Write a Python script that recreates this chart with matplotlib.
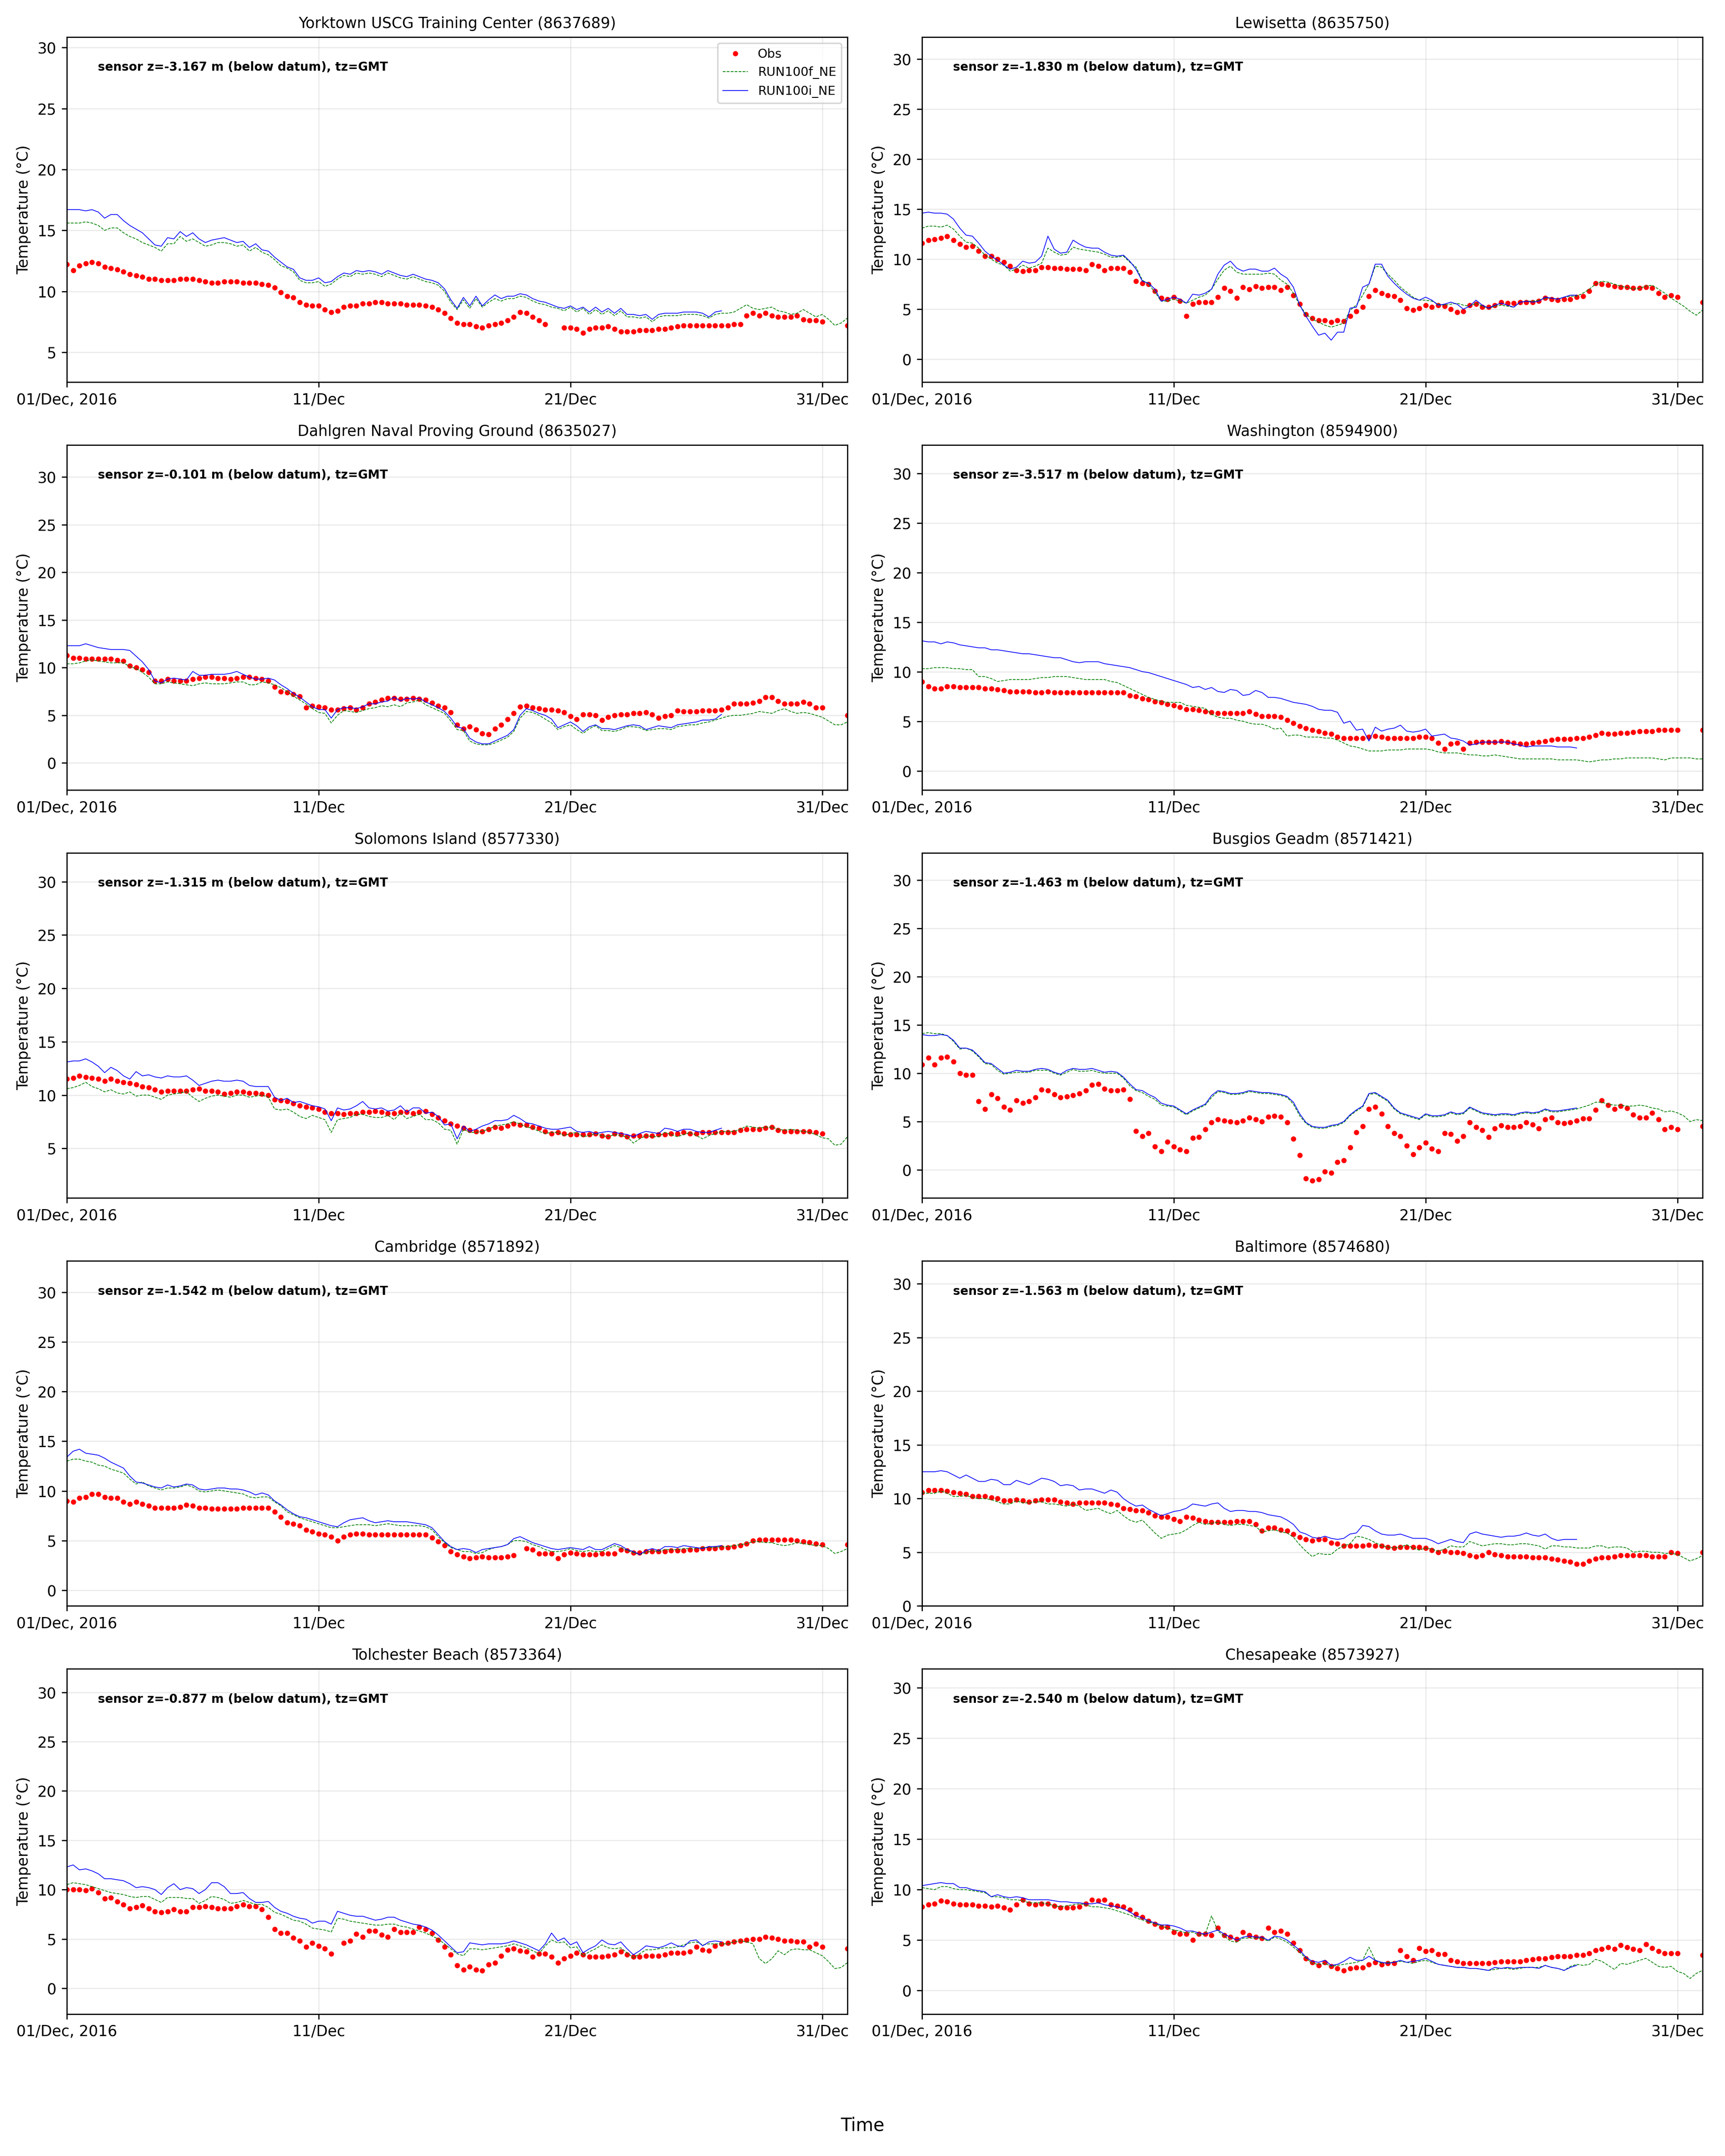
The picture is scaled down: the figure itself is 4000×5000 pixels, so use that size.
import datetime
import numpy as np
import matplotlib
matplotlib.use("Agg")
import matplotlib.pyplot as plt
import matplotlib.dates as mdates

# values every 6 hours from 01/Dec 2016 00:00 (None = no data)
# obs = observations, f = RUN100f_NE, i = RUN100i_NE

yorktown_i = [
    16.7, 16.7, 16.7, 16.6, 16.7, 16.5, 16.0, 16.3,
    16.3, 15.8, 15.4, 15.1, 14.8, 14.3, 13.8, 13.7,
    14.4, 14.3, 14.9, 14.5, 14.8, 14.3, 14.0, 14.2,
    14.3, 14.4, 14.2, 14.0, 14.1, 13.6, 13.9, 13.4,
    13.3, 12.8, 12.4, 12.0, 11.8, 11.1, 10.9, 10.9,
    11.1, 10.7, 10.8, 11.2, 11.5, 11.4, 11.7, 11.6,
    11.7, 11.6, 11.4, 11.7, 11.5, 11.3, 11.2, 11.4,
    11.2, 11.0, 10.9, 10.7, 10.2, 9.3, 8.6, 9.5,
    8.8, 9.6, 8.8, 9.3, 9.7, 9.4, 9.6, 9.6,
    9.8, 9.7, 9.4, 9.2, 9.1, 8.9, 8.7, 8.6,
    8.8, 8.5, 8.7, 8.3, 8.7, 8.3, 8.6, 8.2,
    8.6, 8.1, 8.1, 8.0, 8.1, 7.7, 8.1, 8.2,
    8.2, 8.2, 8.3, 8.3, 8.3, 8.2, 7.9, 8.3,
    8.4]
yorktown_f = [
    15.6, 15.6, 15.6, 15.7, 15.6, 15.4, 15.0, 15.2,
    15.2, 14.8, 14.5, 14.3, 14.0, 13.8, 13.6, 13.3,
    13.9, 13.9, 14.5, 14.1, 14.3, 14.0, 13.7, 13.8,
    14.0, 14.0, 13.9, 13.7, 13.8, 13.3, 13.6, 13.2,
    13.0, 12.6, 12.1, 11.9, 11.6, 10.9, 10.7, 10.7,
    10.8, 10.4, 10.6, 11.0, 11.3, 11.2, 11.5, 11.4,
    11.5, 11.4, 11.2, 11.5, 11.3, 11.1, 11.0, 11.2,
    11.0, 10.8, 10.7, 10.5, 10.0, 9.1, 8.5, 9.3,
    8.6, 9.4, 8.7, 9.1, 9.4, 9.2, 9.4, 9.4,
    9.6, 9.5, 9.2, 9.0, 8.9, 8.7, 8.6, 8.4,
    8.7, 8.3, 8.6, 8.1, 8.5, 8.1, 8.4, 8.0,
    8.4, 7.9, 7.9, 7.8, 7.9, 7.5, 7.9, 8.0,
    8.0, 8.0, 8.1, 8.1, 8.1, 8.0, 7.8, 8.1,
    8.2, 8.2, 8.3, 8.6, 8.9, 8.6, 8.5, 8.6,
    8.7, 8.4, 8.3, 8.1, 8.2, 8.5, 8.2, 7.9,
    8.1, 7.7, 7.2, 7.4, 7.8]
yorktown_obs = [
    12.2, 11.7, 12.1, 12.3, 12.4, 12.3, 12.0, 11.9,
    11.8, 11.6, 11.4, 11.3, 11.2, 11.0, 11.0, 10.9,
    10.9, 10.9, 11.0, 11.0, 11.0, 10.9, 10.8, 10.7,
    10.7, 10.8, 10.8, 10.8, 10.7, 10.7, 10.7, 10.6,
    10.5, 10.3, 9.9, 9.6, 9.5, 9.1, 8.9, 8.8,
    8.8, 8.5, 8.3, 8.4, 8.7, 8.8, 8.8, 9.0,
    9.0, 9.1, 9.1, 9.0, 9.0, 9.0, 8.9, 8.9,
    8.9, 8.8, 8.7, 8.5, 8.2, 7.8, 7.4, 7.3,
    7.3, 7.1, 7.0, 7.2, 7.3, 7.4, 7.6, 7.9,
    8.3, 8.2, 7.9, 7.6, 7.3, None, None, 7.0,
    7.0, 6.9, 6.6, 6.9, 7.0, 7.0, 7.1, 6.9,
    6.7, 6.7, 6.7, 6.8, 6.8, 6.8, 6.9, 6.9,
    7.0, 7.1, 7.2, 7.2, 7.2, 7.2, 7.2, 7.2,
    7.2, 7.2, 7.3, 7.3, 8.0, 8.2, 8.0, 8.2,
    8.0, 7.9, 7.9, 7.9, 8.0, 7.7, 7.6, 7.6,
    7.5, None, None, None, 7.2]

lewisetta_i = [
    14.6, 14.7, 14.6, 14.6, 14.5, 14.0, 13.1, 12.4,
    12.3, 11.6, 10.8, 10.3, 9.9, 9.4, 9.0, 9.2,
    9.8, 9.6, 9.7, 10.3, 12.3, 11.0, 10.6, 10.7,
    11.9, 11.5, 11.2, 11.1, 11.1, 10.7, 10.4, 10.3,
    10.4, 9.8, 9.0, 7.8, 7.6, 7.0, 5.8, 6.0,
    6.2, 6.0, 5.6, 6.5, 6.4, 6.6, 7.0, 8.5,
    9.4, 9.8, 9.1, 8.8, 9.0, 9.0, 8.8, 8.8,
    9.1, 8.5, 8.1, 7.2, 5.4, 4.3, 3.3, 2.4,
    2.6, 1.9, 2.7, 2.7, 5.1, 5.2, 7.2, 7.5,
    9.5, 9.5, 8.3, 7.6, 7.0, 6.5, 6.1, 5.9,
    6.2, 5.9, 5.4, 5.5, 5.7, 5.5, 5.0, 5.3,
    5.9, 5.4, 5.1, 5.4, 5.6, 5.4, 5.2, 5.7,
    5.8, 5.7, 5.8, 6.2, 6.1, 6.0, 6.2, 6.4,
    6.4]
lewisetta_f = [
    13.1, 13.3, 13.3, 13.2, 13.4, 13.0, 12.3, 11.7,
    11.6, 11.1, 10.4, 10.0, 9.6, 9.4, 8.8, 9.0,
    9.4, 9.1, 9.3, 9.6, 11.1, 10.7, 10.4, 10.5,
    11.2, 11.0, 10.9, 10.8, 10.7, 10.5, 10.2, 10.2,
    10.3, 9.7, 9.2, 7.9, 7.5, 6.7, 5.8, 5.8,
    6.0, 5.8, 5.6, 5.9, 6.2, 6.4, 7.0, 8.0,
    8.9, 9.3, 8.7, 8.5, 8.5, 8.5, 8.5, 8.6,
    8.5, 7.9, 7.5, 6.6, 5.4, 4.5, 4.0, 3.7,
    3.4, 3.2, 3.4, 3.6, 4.9, 5.4, 6.4, 7.5,
    9.3, 9.2, 8.5, 7.9, 7.2, 6.7, 6.2, 5.9,
    5.9, 5.8, 5.5, 5.4, 5.5, 5.6, 5.4, 5.3,
    5.6, 5.3, 5.1, 5.3, 5.4, 5.3, 5.2, 5.7,
    5.8, 5.8, 5.9, 6.1, 6.1, 6.0, 6.2, 6.3,
    6.3, 6.6, 7.0, 7.5, 7.8, 7.7, 7.5, 7.3,
    7.2, 7.0, 7.1, 7.3, 7.4, 7.0, 6.6, 6.1,
    5.7, 5.3, 4.8, 4.4, 4.9]
lewisetta_obs = [
    11.6, 11.9, 12.0, 12.1, 12.3, 11.9, 11.5, 11.2,
    11.3, 10.8, 10.3, 10.3, 10.0, 9.7, 9.3, 8.9,
    8.8, 8.9, 8.9, 9.2, 9.2, 9.1, 9.1, 9.0,
    9.0, 9.0, 8.9, 9.5, 9.3, 8.9, 9.1, 9.1,
    9.1, 8.7, 7.8, 7.6, 7.5, 6.8, 6.1, 6.0,
    6.2, 5.8, 4.3, 5.5, 5.7, 5.7, 5.7, 6.2,
    7.1, 6.8, 6.1, 7.2, 7.0, 7.3, 7.1, 7.2,
    7.2, 6.9, 7.2, 6.4, 5.5, 4.5, 4.1, 3.9,
    3.9, 3.7, 3.9, 3.8, 4.3, 4.8, 5.2, 6.3,
    6.9, 6.6, 6.4, 6.3, 5.9, 5.1, 4.9, 5.1,
    5.4, 5.2, 5.4, 5.3, 5.0, 4.7, 4.8, 5.4,
    5.5, 5.2, 5.2, 5.4, 5.7, 5.6, 5.6, 5.7,
    5.7, 5.7, 5.8, 6.1, 6.0, 5.9, 6.0, 6.0,
    6.2, 6.3, 6.8, 7.6, 7.5, 7.4, 7.3, 7.2,
    7.2, 7.1, 7.1, 7.2, 7.1, 6.6, 6.2, 6.4,
    6.2, None, None, None, 5.7]

dahlgren_i = [
    12.3, 12.3, 12.3, 12.5, 12.3, 12.1, 12.0, 11.9,
    11.9, 11.9, 11.8, 11.2, 10.6, 9.8, 8.6, 8.4,
    8.8, 8.9, 8.8, 8.7, 9.6, 9.2, 9.2, 9.3,
    9.3, 9.3, 9.4, 9.6, 9.3, 9.0, 8.8, 8.8,
    8.9, 8.7, 8.2, 7.8, 7.3, 6.9, 6.4, 5.9,
    5.6, 5.6, 4.7, 5.6, 5.8, 5.8, 5.7, 5.9,
    6.2, 6.2, 6.4, 6.5, 6.9, 6.5, 6.8, 6.7,
    6.8, 6.4, 6.1, 5.8, 5.4, 4.7, 3.8, 3.6,
    2.6, 2.2, 2.0, 2.0, 2.3, 2.6, 2.9, 3.5,
    5.0, 5.7, 5.5, 5.2, 5.0, 4.6, 3.7, 4.0,
    4.3, 3.9, 3.3, 3.8, 4.0, 3.6, 3.6, 3.5,
    3.7, 3.9, 4.0, 3.9, 3.5, 3.7, 3.9, 3.8,
    3.7, 4.0, 4.1, 4.2, 4.3, 4.5, 4.5, 4.6,
    5.1]
dahlgren_f = [
    10.4, 10.4, 10.5, 10.7, 10.8, 10.7, 10.6, 10.5,
    10.5, 10.5, 10.1, 9.9, 9.5, 9.0, 8.3, 8.3,
    8.5, 8.4, 8.3, 8.2, 8.1, 8.3, 8.4, 8.3,
    8.3, 8.3, 8.4, 8.5, 8.5, 8.2, 8.2, 8.5,
    8.4, 8.2, 7.9, 7.5, 7.0, 6.6, 6.2, 5.7,
    5.3, 5.2, 4.2, 5.0, 5.5, 5.4, 5.3, 5.5,
    5.7, 5.8, 6.0, 5.9, 6.1, 5.9, 6.3, 6.4,
    6.6, 6.1, 5.8, 5.5, 5.2, 4.4, 3.5, 3.4,
    2.3, 2.0, 1.9, 1.9, 2.1, 2.4, 2.7, 3.3,
    4.7, 5.4, 5.3, 5.0, 4.6, 4.2, 3.5, 3.8,
    4.0, 3.5, 3.1, 3.6, 3.9, 3.4, 3.4, 3.3,
    3.5, 3.8, 3.8, 3.7, 3.4, 3.5, 3.6, 3.6,
    3.5, 3.8, 3.9, 4.0, 4.0, 4.2, 4.3, 4.5,
    4.7, 4.9, 5.0, 5.0, 5.1, 5.2, 5.4, 5.3,
    5.2, 5.5, 5.7, 5.4, 5.2, 5.3, 5.2, 5.0,
    4.8, 4.4, 4.0, 4.0, 4.3]
dahlgren_obs = [
    11.3, 11.0, 11.0, 10.9, 10.9, 10.9, 10.9, 10.9,
    10.8, 10.7, 10.2, 10.0, 9.8, 9.5, 8.6, 8.6,
    8.8, 8.6, 8.6, 8.6, 8.8, 8.9, 9.0, 9.0,
    8.9, 8.9, 8.8, 8.9, 9.0, 9.0, 8.9, 8.8,
    8.6, 8.0, 7.5, 7.4, 7.2, 7.0, 5.8, 6.0,
    5.9, 5.8, 5.6, 5.6, 5.7, 5.8, 5.6, 5.8,
    6.2, 6.4, 6.6, 6.8, 6.8, 6.7, 6.7, 6.8,
    6.7, 6.6, 6.3, 6.0, 5.8, 5.3, 4.0, 3.6,
    3.8, 3.5, 3.1, 3.0, 3.6, 4.0, 4.6, 5.2,
    5.9, 6.0, 5.8, 5.7, 5.6, 5.6, 5.5, 5.3,
    4.9, 4.6, 5.1, 5.1, 5.0, 4.5, 4.8, 5.0,
    5.1, 5.1, 5.2, 5.2, 5.3, 5.1, 4.7, 4.9,
    5.0, 5.5, 5.4, 5.4, 5.4, 5.5, 5.5, 5.5,
    5.6, 5.8, 6.2, 6.2, 6.2, 6.3, 6.5, 6.9,
    6.9, 6.5, 6.2, 6.2, 6.2, 6.4, 6.2, 5.8,
    5.8, None, None, None, 5.0]

washington_i = [
    13.1, 13.0, 13.0, 12.8, 13.0, 12.9, 12.7, 12.6,
    12.5, 12.4, 12.4, 12.2, 12.2, 12.1, 12.0, 11.9,
    11.8, 11.8, 11.7, 11.6, 11.5, 11.4, 11.4, 11.2,
    11.0, 10.9, 11.0, 11.0, 11.0, 10.8, 10.7, 10.6,
    10.5, 10.4, 10.2, 10.0, 9.9, 9.7, 9.5, 9.3,
    9.1, 8.9, 8.7, 8.4, 8.5, 8.2, 8.4, 8.0,
    7.9, 8.2, 8.1, 7.6, 7.7, 8.1, 7.9, 7.4,
    7.4, 7.3, 7.1, 6.9, 6.8, 6.7, 6.5, 6.2,
    6.1, 6.1, 5.9, 4.8, 5.0, 4.1, 4.2, 3.0,
    4.4, 4.0, 4.2, 4.3, 4.6, 4.0, 3.9, 4.0,
    4.2, 3.5, 3.6, 3.7, 3.3, 3.2, 3.0, 2.6,
    2.7, 2.9, 2.9, 2.9, 2.9, 2.9, 2.7, 2.6,
    2.4, 2.5, 2.5, 2.5, 2.5, 2.4, 2.4, 2.4,
    2.3]
washington_f = [
    10.3, 10.3, 10.4, 10.4, 10.4, 10.3, 10.3, 10.2,
    10.2, 9.5, 9.5, 9.3, 9.0, 9.1, 9.2, 9.2,
    9.2, 9.2, 9.3, 9.4, 9.4, 9.5, 9.5, 9.5,
    9.4, 9.3, 9.2, 9.2, 9.2, 9.2, 9.0, 8.9,
    8.6, 8.3, 8.0, 7.7, 7.4, 7.2, 7.0, 6.9,
    6.9, 6.9, 6.6, 6.5, 6.4, 6.3, 5.7, 5.4,
    5.3, 5.3, 5.1, 5.0, 4.8, 4.7, 4.7, 4.5,
    4.2, 4.3, 3.5, 3.6, 3.6, 3.4, 3.4, 3.4,
    3.3, 3.3, 3.1, 2.8, 2.5, 2.4, 2.2, 2.0,
    2.0, 2.0, 2.1, 2.1, 2.1, 2.2, 2.2, 2.2,
    2.2, 2.1, 1.9, 1.8, 1.8, 1.8, 1.7, 1.6,
    1.6, 1.5, 1.5, 1.6, 1.5, 1.4, 1.3, 1.2,
    1.2, 1.2, 1.2, 1.2, 1.2, 1.1, 1.1, 1.1,
    1.1, 1.0, 0.9, 1.0, 1.1, 1.1, 1.2, 1.2,
    1.3, 1.3, 1.3, 1.3, 1.3, 1.2, 1.1, 1.3,
    1.3, 1.3, 1.3, 1.2, 1.2]
washington_obs = [
    9.0, 8.5, 8.3, 8.3, 8.5, 8.5, 8.4, 8.4,
    8.4, 8.4, 8.3, 8.3, 8.2, 8.1, 8.0, 8.0,
    8.0, 8.0, 7.9, 7.9, 8.0, 7.9, 7.9, 7.9,
    7.9, 7.9, 7.9, 7.9, 7.9, 7.9, 7.9, 7.9,
    7.9, 7.6, 7.5, 7.3, 7.2, 7.0, 6.9, 6.7,
    6.6, 6.4, 6.2, 6.2, 6.1, 6.0, 5.9, 5.8,
    5.8, 5.8, 5.8, 5.8, 6.0, 5.7, 5.5, 5.5,
    5.5, 5.4, 5.1, 4.8, 4.5, 4.3, 4.1, 4.0,
    3.8, 3.7, 3.4, 3.3, 3.3, 3.3, 3.3, 3.4,
    3.5, 3.4, 3.3, 3.3, 3.3, 3.3, 3.3, 3.4,
    3.4, 3.3, 2.8, 2.2, 2.7, 2.8, 2.2, 2.8,
    2.9, 2.9, 2.9, 2.9, 3.0, 2.9, 2.8, 2.7,
    2.7, 2.8, 2.9, 3.0, 3.1, 3.2, 3.2, 3.2,
    3.3, 3.3, 3.4, 3.6, 3.8, 3.7, 3.7, 3.8,
    3.8, 3.9, 4.0, 4.0, 4.0, 4.1, 4.1, 4.1,
    4.1, None, None, None, 4.1]

solomons_i = [
    13.1, 13.2, 13.2, 13.4, 13.1, 12.7, 12.1, 12.6,
    12.3, 11.8, 11.5, 12.2, 11.8, 11.9, 11.7, 11.6,
    11.8, 11.7, 11.7, 11.8, 11.4, 10.9, 11.1, 11.3,
    11.4, 11.3, 11.3, 11.4, 11.3, 10.9, 10.8, 10.8,
    10.8, 9.8, 9.5, 9.7, 9.3, 9.4, 9.2, 9.0,
    8.9, 8.7, 7.6, 8.8, 8.6, 8.7, 9.0, 9.4,
    8.8, 8.7, 8.8, 8.5, 8.6, 9.0, 8.4, 8.8,
    8.8, 8.3, 8.4, 8.0, 7.2, 7.3, 5.9, 7.1,
    6.6, 6.8, 7.1, 7.3, 7.6, 7.6, 7.7, 8.1,
    7.8, 7.4, 7.3, 7.1, 6.9, 6.8, 6.8, 6.9,
    7.0, 6.6, 6.5, 6.6, 6.4, 6.5, 6.6, 6.5,
    6.4, 6.3, 6.1, 6.4, 6.6, 6.5, 6.4, 6.9,
    6.8, 6.6, 6.8, 6.8, 6.6, 6.5, 6.5, 6.7,
    6.9]
solomons_f = [
    10.6, 10.7, 10.9, 11.2, 10.8, 10.6, 10.3, 10.5,
    10.2, 10.1, 10.3, 9.9, 10.0, 10.0, 9.8, 9.6,
    10.0, 10.1, 10.2, 10.3, 9.8, 9.4, 9.7, 9.9,
    10.0, 9.9, 9.8, 10.0, 10.0, 9.8, 9.9, 10.0,
    9.8, 8.7, 8.6, 8.7, 8.4, 8.0, 7.8, 8.1,
    7.9, 7.7, 6.5, 7.7, 7.8, 7.9, 8.2, 8.2,
    8.0, 7.9, 7.9, 8.1, 7.7, 8.3, 7.8, 8.0,
    8.2, 7.7, 7.7, 7.4, 6.8, 6.7, 5.4, 6.8,
    6.5, 6.5, 6.6, 6.8, 7.1, 7.2, 7.3, 7.5,
    7.3, 7.0, 6.9, 6.6, 6.4, 6.5, 6.5, 6.2,
    6.4, 6.5, 6.1, 6.2, 6.4, 6.2, 6.1, 6.3,
    6.2, 6.1, 5.5, 5.9, 6.2, 6.1, 6.1, 6.5,
    6.3, 6.1, 6.3, 6.5, 6.2, 5.9, 6.2, 6.4,
    6.6, 6.6, 6.6, 6.8, 7.1, 7.0, 6.9, 7.0,
    7.0, 6.8, 6.7, 6.8, 6.7, 6.6, 6.5, 6.3,
    6.0, 5.9, 5.3, 5.4, 6.1]
solomons_obs = [
    11.5, 11.6, 11.8, 11.7, 11.6, 11.5, 11.3, 11.5,
    11.3, 11.2, 11.1, 11.0, 10.8, 10.7, 10.5, 10.3,
    10.4, 10.4, 10.4, 10.4, 10.5, 10.6, 10.4, 10.4,
    10.3, 10.1, 10.2, 10.3, 10.3, 10.2, 10.2, 10.1,
    10.0, 9.6, 9.5, 9.4, 9.2, 9.0, 8.9, 8.8,
    8.7, 8.4, 8.3, 8.3, 8.2, 8.3, 8.3, 8.4,
    8.4, 8.5, 8.4, 8.3, 8.3, 8.4, 8.4, 8.3,
    8.4, 8.5, 8.2, 7.9, 7.6, 7.3, 7.1, 6.9,
    6.7, 6.6, 6.6, 6.8, 7.0, 6.9, 7.1, 7.3,
    7.2, 7.2, 7.0, 6.9, 6.6, 6.4, 6.5, 6.4,
    6.3, 6.3, 6.3, 6.3, 6.4, 6.2, 6.1, 6.4,
    6.3, 6.1, 6.2, 6.2, 6.2, 6.2, 6.3, 6.3,
    6.4, 6.4, 6.5, 6.4, 6.4, 6.5, 6.5, 6.5,
    6.5, 6.5, 6.5, 6.7, 6.8, 6.8, 6.8, 6.9,
    7.0, 6.7, 6.6, 6.6, 6.6, 6.6, 6.6, 6.5,
    6.4]

busgios_i = [
    14.0, 13.9, 13.9, 14.0, 13.9, 13.4, 12.6, 12.6,
    12.4, 11.8, 11.1, 11.0, 10.5, 10.0, 10.1, 10.3,
    10.2, 10.2, 10.4, 10.5, 10.4, 10.1, 9.9, 10.3,
    10.5, 10.4, 10.4, 10.5, 10.3, 10.1, 10.2, 10.1,
    9.6, 8.9, 8.3, 8.2, 7.8, 7.5, 6.9, 6.7,
    6.6, 6.2, 5.8, 6.2, 6.5, 6.8, 7.7, 8.2,
    8.1, 7.9, 7.9, 8.0, 8.2, 8.1, 8.0, 8.0,
    7.9, 7.8, 7.6, 7.0, 5.8, 4.9, 4.5, 4.4,
    4.4, 4.6, 4.7, 5.0, 5.7, 6.2, 6.6, 7.9,
    8.0, 7.6, 7.2, 6.4, 5.9, 5.7, 5.5, 5.3,
    5.8, 5.6, 5.6, 5.7, 6.0, 5.8, 5.9, 6.5,
    6.2, 5.9, 5.8, 5.7, 5.8, 5.8, 5.7, 5.9,
    6.0, 5.9, 6.0, 6.3, 6.1, 6.1, 6.2, 6.3,
    6.4]
busgios_f = [
    14.1, 14.2, 14.1, 14.1, 13.9, 13.3, 12.5, 12.6,
    12.3, 11.7, 11.0, 10.9, 10.3, 9.9, 10.0, 10.1,
    10.1, 10.1, 10.3, 10.3, 10.3, 10.0, 9.8, 10.1,
    10.4, 10.2, 10.2, 10.3, 10.1, 10.0, 10.0, 10.0,
    9.5, 8.7, 8.2, 8.0, 7.6, 7.3, 6.7, 6.6,
    6.5, 6.1, 5.7, 6.1, 6.4, 6.7, 7.5, 8.1,
    8.0, 7.8, 7.8, 7.9, 8.1, 8.0, 7.9, 7.9,
    7.8, 7.7, 7.5, 6.8, 5.6, 4.8, 4.4, 4.3,
    4.3, 4.5, 4.6, 4.9, 5.6, 6.1, 6.5, 7.8,
    7.9, 7.5, 7.1, 6.3, 5.8, 5.6, 5.4, 5.2,
    5.7, 5.5, 5.5, 5.6, 5.9, 5.7, 5.8, 6.4,
    6.1, 5.8, 5.7, 5.6, 5.7, 5.7, 5.6, 5.8,
    5.9, 5.8, 5.9, 6.2, 6.0, 6.0, 6.1, 6.2,
    6.3, 6.5, 6.7, 7.0, 7.0, 6.8, 6.7, 6.7,
    6.6, 6.6, 6.7, 6.6, 6.4, 6.3, 6.0, 6.1,
    5.9, 5.6, 5.0, 5.2, 5.1]
busgios_obs = [
    10.9, 11.6, 10.9, 11.6, 11.7, 11.2, 10.0, 9.8,
    9.8, 7.1, 6.3, 7.8, 7.4, 6.5, 6.2, 7.2,
    6.9, 7.1, 7.5, 8.3, 8.2, 7.8, 7.5, 7.6,
    7.7, 7.9, 8.2, 8.8, 8.9, 8.4, 8.2, 8.2,
    8.3, 7.3, 4.0, 3.5, 3.8, 2.4, 1.9, 2.9,
    2.4, 2.1, 1.9, 3.3, 3.4, 4.2, 4.9, 5.2,
    5.1, 5.0, 4.9, 5.1, 5.4, 5.2, 5.0, 5.5,
    5.6, 5.5, 4.9, 3.2, 1.5, -0.9, -1.1, -1.0,
    -0.2, -0.3, 0.8, 1.0, 2.3, 3.9, 4.5, 6.3,
    6.5, 5.8, 4.5, 3.8, 3.5, 2.5, 1.6, 2.3,
    2.8, 2.2, 1.9, 3.8, 3.7, 3.0, 3.5, 4.9,
    4.4, 4.1, 3.4, 4.3, 4.6, 4.4, 4.4, 4.5,
    4.9, 4.7, 4.3, 5.2, 5.4, 4.9, 4.8, 4.9,
    5.1, 5.3, 5.3, 6.2, 7.2, 6.7, 6.3, 6.6,
    6.4, 5.7, 5.4, 5.4, 5.9, 5.2, 4.2, 4.4,
    4.2, None, None, None, 4.5]

cambridge_i = [
    13.4, 14.0, 14.2, 13.8, 13.7, 13.6, 13.3, 12.9,
    12.6, 12.3, 11.5, 10.9, 10.8, 10.6, 10.4, 10.3,
    10.6, 10.4, 10.5, 10.7, 10.6, 10.2, 10.1, 10.2,
    10.3, 10.3, 10.2, 10.2, 10.1, 9.9, 9.6, 9.8,
    9.6, 9.0, 8.6, 8.1, 7.7, 7.4, 7.3, 7.1,
    6.9, 6.7, 6.5, 6.4, 6.8, 7.1, 7.2, 7.3,
    7.0, 6.8, 6.9, 7.0, 6.9, 6.9, 6.9, 6.8,
    6.7, 6.6, 6.3, 5.6, 4.9, 4.4, 4.1, 4.2,
    4.1, 3.8, 4.1, 4.2, 4.3, 4.4, 4.6, 5.2,
    5.4, 5.1, 4.8, 4.6, 4.4, 4.2, 4.1, 4.2,
    4.3, 4.2, 4.1, 4.4, 4.1, 4.1, 4.4, 4.7,
    4.5, 4.1, 3.9, 3.6, 4.0, 4.2, 4.0, 4.4,
    4.4, 4.3, 4.5, 4.4, 4.3, 4.2, 4.4, 4.4,
    4.5]
cambridge_f = [
    13.0, 13.2, 13.2, 13.0, 12.9, 12.6, 12.5, 12.2,
    12.0, 11.8, 11.2, 10.7, 10.9, 10.5, 10.3, 10.1,
    10.3, 10.3, 10.4, 10.6, 10.4, 10.0, 9.9, 10.0,
    10.1, 10.0, 9.9, 9.8, 9.7, 9.4, 9.3, 9.4,
    9.4, 8.9, 8.5, 7.9, 7.6, 7.3, 7.1, 6.9,
    6.7, 6.5, 6.3, 6.3, 6.4, 6.5, 6.6, 6.6,
    6.6, 6.5, 6.6, 6.7, 6.6, 6.5, 6.5, 6.5,
    6.5, 6.4, 6.1, 5.4, 4.8, 4.3, 4.1, 3.9,
    3.9, 3.7, 3.8, 4.1, 4.3, 4.4, 4.6, 5.0,
    5.0, 4.9, 4.6, 4.4, 4.1, 3.9, 3.9, 4.0,
    4.2, 4.0, 3.9, 4.0, 3.9, 3.9, 4.2, 4.5,
    4.3, 4.0, 3.8, 3.6, 3.8, 4.0, 3.9, 4.1,
    4.1, 4.1, 4.2, 4.2, 4.2, 4.3, 4.3, 4.3,
    4.4, 4.4, 4.5, 4.6, 4.7, 4.9, 4.9, 4.8,
    4.8, 4.6, 4.5, 4.6, 4.8, 4.7, 4.6, 4.5,
    4.5, 4.2, 3.7, 3.9, 4.2]
cambridge_obs = [
    9.0, 8.9, 9.3, 9.4, 9.7, 9.7, 9.4, 9.3,
    9.3, 8.9, 8.7, 8.9, 8.7, 8.5, 8.3, 8.3,
    8.3, 8.3, 8.4, 8.6, 8.5, 8.3, 8.3, 8.2,
    8.2, 8.2, 8.2, 8.2, 8.3, 8.3, 8.3, 8.3,
    8.3, 7.9, 7.4, 6.8, 6.7, 6.5, 6.1, 5.9,
    5.7, 5.6, 5.4, 5.0, 5.4, 5.6, 5.7, 5.7,
    5.6, 5.6, 5.6, 5.6, 5.6, 5.6, 5.6, 5.6,
    5.6, 5.6, 5.3, 4.9, 4.5, 3.9, 3.6, 3.4,
    3.2, 3.3, 3.4, 3.3, 3.3, 3.3, 3.4, 3.5,
    None, 4.2, 4.1, 3.7, 3.7, 3.7, 3.2, 3.6,
    3.8, 3.7, 3.6, 3.6, 3.6, 3.7, 3.7, 3.7,
    4.1, 4.0, 3.8, 3.8, 3.9, 3.9, 3.9, 3.9,
    4.0, 4.0, 4.0, 4.1, 4.1, 4.2, 4.2, 4.2,
    4.3, 4.3, 4.4, 4.5, 4.7, 5.0, 5.1, 5.1,
    5.1, 5.1, 5.1, 5.1, 5.0, 4.9, 4.8, 4.7,
    4.6, None, None, None, 4.6]

baltimore_i = [
    12.5, 12.5, 12.5, 12.6, 12.5, 12.2, 11.9, 12.2,
    11.9, 11.6, 11.6, 11.8, 11.7, 11.3, 11.3, 11.7,
    11.5, 11.3, 11.6, 11.9, 11.8, 11.6, 11.2, 11.3,
    11.2, 10.8, 10.9, 10.9, 10.7, 10.5, 10.8, 10.6,
    10.0, 9.6, 9.3, 9.4, 9.0, 8.7, 8.4, 8.6,
    8.8, 8.9, 9.1, 9.5, 9.4, 9.3, 9.5, 9.6,
    9.1, 8.8, 8.9, 8.9, 8.8, 8.8, 8.7, 8.5,
    8.4, 8.3, 8.0, 7.6, 6.9, 6.7, 6.4, 6.3,
    6.5, 6.3, 6.2, 6.3, 6.7, 6.8, 7.5, 7.4,
    7.0, 6.7, 6.6, 6.6, 6.7, 6.5, 6.3, 6.3,
    6.3, 6.1, 5.8, 6.0, 6.2, 6.0, 5.9, 6.7,
    6.9, 6.7, 6.6, 6.5, 6.4, 6.5, 6.5, 6.6,
    6.8, 6.6, 6.5, 6.7, 6.3, 6.1, 6.2, 6.2,
    6.2]
baltimore_f = [
    10.5, 10.5, 10.5, 10.7, 10.5, 10.2, 10.2, 10.3,
    10.1, 10.0, 10.0, 9.9, 9.7, 9.5, 9.5, 9.8,
    9.6, 9.6, 9.7, 9.7, 9.5, 9.5, 9.4, 9.3,
    9.5, 9.3, 8.9, 9.0, 9.1, 8.8, 8.6, 8.9,
    8.4, 8.0, 7.8, 8.0, 7.4, 6.8, 6.3, 6.6,
    6.7, 6.8, 7.1, 7.5, 7.8, 7.6, 7.7, 7.8,
    7.6, 7.5, 7.6, 7.6, 7.5, 7.4, 6.9, 7.0,
    7.1, 6.9, 6.8, 6.4, 5.7, 5.1, 4.6, 4.9,
    4.8, 4.8, 5.3, 5.6, 5.8, 6.5, 6.4, 6.2,
    5.9, 5.6, 5.5, 5.4, 5.5, 5.7, 5.4, 5.2,
    5.4, 5.3, 5.1, 5.3, 5.6, 5.5, 5.5, 6.0,
    5.8, 5.6, 5.7, 5.8, 5.8, 5.7, 5.7, 5.8,
    5.8, 5.7, 5.6, 5.3, 5.6, 5.6, 5.5, 5.5,
    5.4, 5.4, 5.4, 5.6, 5.6, 5.4, 5.5, 5.5,
    5.4, 5.0, 5.1, 5.1, 5.0, 5.0, 4.9, 4.9,
    4.8, 4.5, 4.2, 4.4, 4.7]
baltimore_obs = [
    10.6, 10.8, 10.8, 10.8, 10.7, 10.6, 10.5, 10.4,
    10.2, 10.2, 10.2, 10.1, 10.0, 9.8, 9.8, 9.9,
    9.8, 9.7, 9.8, 9.9, 9.9, 9.9, 9.7, 9.6,
    9.5, 9.6, 9.6, 9.6, 9.6, 9.6, 9.5, 9.4,
    9.1, 9.0, 8.9, 8.9, 8.7, 8.4, 8.3, 8.3,
    8.1, 7.9, 8.3, 8.2, 8.0, 7.9, 7.8, 7.8,
    7.8, 7.8, 7.9, 7.9, 7.9, 7.6, 7.0, 7.3,
    7.3, 7.1, 7.0, 6.7, 6.4, 6.2, 6.1, 6.2,
    6.2, 5.9, 5.8, 5.6, 5.6, 5.6, 5.6, 5.7,
    5.6, 5.6, 5.5, 5.4, 5.5, 5.5, 5.5, 5.5,
    5.4, 5.2, 5.0, 5.1, 5.0, 5.0, 4.9, 4.7,
    4.6, 4.7, 5.0, 4.8, 4.7, 4.6, 4.6, 4.6,
    4.6, 4.5, 4.5, 4.5, 4.4, 4.3, 4.2, 4.1,
    3.9, 3.9, 4.2, 4.4, 4.5, 4.5, 4.6, 4.7,
    4.7, 4.7, 4.7, 4.7, 4.6, 4.6, 4.6, 5.0,
    4.9, None, None, None, 5.0]

tolchester_i = [
    12.3, 12.5, 12.0, 12.1, 11.9, 11.6, 11.1, 11.1,
    11.0, 10.9, 10.6, 10.2, 10.3, 10.2, 10.0, 9.5,
    10.2, 10.6, 10.0, 10.2, 10.1, 9.6, 10.0, 10.7,
    10.7, 10.3, 9.6, 9.6, 9.7, 9.1, 8.7, 8.7,
    8.8, 8.2, 7.8, 7.6, 7.3, 7.1, 7.0, 6.6,
    6.8, 6.8, 6.5, 7.8, 7.6, 7.4, 7.3, 7.3,
    7.1, 6.9, 7.0, 7.2, 7.2, 6.9, 6.7, 6.5,
    6.4, 6.2, 5.9, 5.4, 4.8, 4.2, 3.6, 3.7,
    4.6, 4.5, 4.4, 4.5, 4.5, 4.5, 4.6, 4.8,
    4.6, 4.4, 4.1, 3.8, 4.5, 5.6, 4.8, 5.1,
    4.4, 4.7, 3.6, 4.0, 4.3, 4.9, 4.5, 4.4,
    4.7, 4.0, 3.4, 3.8, 4.3, 4.2, 4.1, 4.3,
    4.6, 4.3, 4.2, 4.8, 4.9, 4.3, 4.7, 4.8,
    4.7]
tolchester_f = [
    10.5, 10.7, 10.6, 10.5, 10.3, 10.1, 9.9, 9.7,
    9.6, 9.5, 9.3, 9.2, 9.3, 9.3, 9.0, 8.7,
    9.2, 9.2, 9.2, 9.1, 9.1, 8.6, 8.9, 9.3,
    9.2, 9.0, 8.6, 8.7, 8.9, 8.7, 8.5, 8.5,
    8.2, 7.7, 7.5, 7.2, 6.9, 6.8, 6.5, 6.1,
    6.0, 5.9, 5.7, 7.1, 7.0, 6.8, 6.7, 6.6,
    6.5, 6.4, 6.4, 6.5, 6.5, 6.3, 6.2, 6.0,
    5.8, 5.6, 5.3, 5.0, 4.5, 4.0, 3.5, 3.3,
    4.0, 4.0, 3.9, 4.0, 4.1, 4.2, 4.3, 4.5,
    4.3, 4.1, 3.8, 3.5, 4.3, 4.9, 4.6, 4.7,
    4.1, 4.2, 3.3, 3.7, 4.0, 4.4, 4.1, 4.0,
    4.1, 3.6, 3.1, 3.5, 3.9, 3.9, 4.0, 4.1,
    4.1, 4.2, 4.4, 4.6, 4.7, 4.4, 4.5, 4.5,
    4.5, 4.5, 4.7, 4.8, 4.7, 4.5, 3.0, 2.5,
    3.0, 3.8, 3.4, 3.9, 4.0, 3.9, 3.9, 3.6,
    3.3, 2.7, 2.0, 2.1, 2.6]
tolchester_obs = [
    10.0, 10.0, 10.0, 9.9, 10.1, 9.7, 9.1, 9.2,
    8.8, 8.5, 8.1, 8.2, 8.4, 8.1, 7.8, 7.7,
    7.8, 8.0, 7.8, 7.8, 8.2, 8.2, 8.3, 8.2,
    8.1, 8.1, 8.1, 8.3, 8.5, 8.3, 8.3, 8.0,
    7.2, 6.0, 5.6, 5.6, 5.1, 4.8, 4.2, 4.6,
    4.3, 4.0, 3.5, None, 4.6, 4.8, 5.5, 5.2,
    5.8, 5.8, 5.4, 5.2, 6.0, 5.7, 5.7, 5.7,
    6.2, 6.0, 5.6, 4.9, 4.2, 3.4, 2.3, 1.9,
    2.2, 1.9, 1.8, 2.4, 2.6, 3.3, 3.9, 4.0,
    3.8, 3.7, 3.2, 3.5, 3.5, 3.2, 2.6, 3.0,
    3.3, 3.6, 3.4, 3.2, 3.2, 3.2, 3.3, 3.4,
    3.7, 3.4, 3.2, 3.2, 3.3, 3.3, 3.3, 3.4,
    3.6, 3.6, 3.6, 3.7, 4.2, 3.9, 3.8, 4.3,
    4.5, 4.6, 4.7, 4.8, 4.9, 5.0, 5.0, 5.2,
    5.1, 5.0, 4.8, 4.8, 4.7, 4.7, 4.2, 4.5,
    4.2, None, None, None, 4.0]

chesapeake_i = [
    10.4, 10.5, 10.6, 10.7, 10.6, 10.6, 10.2, 10.2,
    10.0, 9.9, 9.8, 9.3, 9.5, 9.3, 9.2, 9.3,
    9.2, 9.0, 9.0, 9.0, 9.0, 8.9, 8.8, 8.8,
    8.7, 8.7, 8.6, 8.6, 8.7, 8.5, 8.4, 8.3,
    8.1, 7.8, 7.4, 7.2, 6.9, 6.7, 6.5, 6.5,
    6.4, 6.2, 5.9, 5.9, 5.7, 5.6, 5.8, 6.0,
    5.6, 5.3, 5.0, 5.3, 5.4, 5.3, 5.3, 5.0,
    5.4, 5.3, 5.0, 4.5, 4.0, 3.3, 2.9, 2.8,
    3.0, 2.5, 2.6, 2.9, 3.3, 3.0, 3.0, 3.4,
    3.0, 2.8, 2.7, 2.8, 3.0, 2.8, 2.9, 3.0,
    3.2, 2.9, 2.6, 2.5, 2.4, 2.3, 2.3, 2.2,
    2.2, 2.1, 2.0, 2.3, 2.2, 2.3, 2.2, 2.3,
    2.3, 2.3, 2.2, 2.5, 2.3, 2.2, 2.0, 2.3,
    2.5]
chesapeake_f = [
    10.2, 10.1, 10.0, 10.3, 10.3, 10.1, 10.0, 10.0,
    9.9, 9.8, 9.7, 9.3, 9.3, 9.2, 9.0, 9.0,
    8.9, 8.7, 8.7, 8.7, 8.6, 8.4, 8.3, 8.4,
    8.5, 8.6, 8.5, 8.3, 8.3, 8.2, 8.1, 7.9,
    7.7, 7.5, 7.2, 7.0, 6.8, 6.6, 6.4, 6.2,
    6.0, 5.9, 5.7, 5.8, 5.5, 5.6, 7.4, 5.9,
    5.4, 4.9, 4.8, 5.2, 5.2, 5.2, 5.2, 4.9,
    5.3, 5.1, 4.8, 4.3, 3.8, 3.2, 2.7, 2.6,
    2.7, 2.4, 2.5, 2.6, 2.7, 2.8, 3.0, 4.3,
    3.0, 2.7, 2.8, 2.8, 2.9, 2.8, 2.7, 2.9,
    3.0, 2.8, 2.6, 2.5, 2.4, 2.3, 2.3, 2.2,
    2.2, 2.1, 2.0, 2.1, 2.2, 2.2, 2.1, 2.2,
    2.3, 2.3, 2.3, 2.5, 2.3, 2.2, 2.0, 2.4,
    2.6, 2.5, 2.6, 3.1, 2.9, 2.5, 2.1, 2.7,
    2.6, 2.8, 3.0, 3.2, 2.8, 2.4, 2.3, 2.4,
    1.9, 1.7, 1.2, 1.7, 2.0]
chesapeake_obs = [
    8.3, 8.5, 8.6, 8.9, 8.8, 8.6, 8.5, 8.5,
    8.5, 8.4, 8.4, 8.3, 8.4, 8.2, 8.0, 8.5,
    9.0, 8.6, 8.5, 8.6, 8.6, 8.4, 8.2, 8.2,
    8.2, 8.3, 8.6, 9.0, 8.9, 9.0, 8.5, 8.4,
    8.3, 8.0, 7.6, 7.3, 6.9, 6.6, 6.3, 6.3,
    5.8, 5.6, 5.6, 5.0, 5.6, 5.6, 5.5, 6.2,
    5.5, 5.3, 5.1, 5.8, 5.5, 5.3, 5.2, 6.2,
    5.8, 5.9, 5.6, 4.7, 4.0, 3.2, 2.8, 2.5,
    2.8, 2.4, 2.2, 2.0, 2.2, 2.3, 2.3, 2.6,
    2.8, 2.6, 2.7, 2.7, 4.0, 3.4, 3.0, 4.2,
    3.9, 4.0, 3.6, 3.6, 3.0, 2.9, 2.7, 2.7,
    2.7, 2.7, 2.7, 2.8, 2.9, 2.9, 2.9, 2.9,
    3.0, 3.1, 3.2, 3.2, 3.3, 3.4, 3.4, 3.4,
    3.5, 3.5, 3.7, 4.0, 4.1, 4.3, 4.1, 4.5,
    4.3, 4.1, 4.0, 4.6, 4.2, 3.9, 3.7, 3.7,
    3.7, None, None, None, 3.5]

titles = ["Yorktown USCG Training Center (8637689)", "Lewisetta (8635750)",
          "Dahlgren Naval Proving Ground (8635027)", "Washington (8594900)",
          "Solomons Island (8577330)", "Busgios Geadm (8571421)",
          "Cambridge (8571892)", "Baltimore (8574680)",
          "Tolchester Beach (8573364)", "Chesapeake (8573927)"]
depths = ["-3.167", "-1.830", "-0.101", "-3.517", "-1.315",
          "-1.463", "-1.542", "-1.563", "-0.877", "-2.540"]
ylims = [(2.54, 30.86), (-2.3, 32.2), (-2.85, 33.35), (-1.95, 32.85), (0.35, 32.69),
         (-2.92, 32.8), (-1.58, 33.16), (0.0, 32.14), (-2.6, 32.38), (-2.31, 31.88)]
obs_all = [yorktown_obs, lewisetta_obs, dahlgren_obs, washington_obs, solomons_obs,
           busgios_obs, cambridge_obs, baltimore_obs, tolchester_obs, chesapeake_obs]
f_all = [yorktown_f, lewisetta_f, dahlgren_f, washington_f, solomons_f,
         busgios_f, cambridge_f, baltimore_f, tolchester_f, chesapeake_f]
i_all = [yorktown_i, lewisetta_i, dahlgren_i, washington_i, solomons_i,
         busgios_i, cambridge_i, baltimore_i, tolchester_i, chesapeake_i]

tick_days = [0, 10, 20, 30]
tick_labels = ["01/Dec, 2016", "11/Dec", "21/Dec", "31/Dec"]

start = mdates.date2num(datetime.datetime(2016, 12, 1))


def times(vals):
    return start + np.arange(len(vals)) / 4.0


fig = plt.figure(figsize=(16, 20), dpi=250)
axes = fig.subplots(5, 2)
fig.subplots_adjust(left=0.03875, right=0.987, top=0.9828, bottom=0.0659,
                    wspace=0.0956, hspace=0.182)

for n, ax in enumerate(axes.flat):
    obs = np.array(obs_all[n], dtype=float)
    runf = np.array(f_all[n], dtype=float)
    runi = np.array(i_all[n], dtype=float)

    ax.plot(times(obs), obs, ".", color="red", markersize=5, label="Obs")
    ax.plot(times(runf), runf, "--", color="green", linewidth=0.5, label="RUN100f_NE")
    ax.plot(times(runi), runi, "-", color="blue", linewidth=0.5, label="RUN100i_NE")

    ax.set_title(titles[n], fontsize=10)
    ax.set_ylabel("Temperature (°C)")
    ax.set_xlim(start, start + 31)
    ax.set_ylim(ylims[n])
    ax.set_xticks([start + d for d in tick_days], tick_labels)
    ax.grid(True, alpha=0.25)
    ax.text(0.04, 0.912, "sensor z={} m (below datum), tz=GMT".format(depths[n]),
            transform=ax.transAxes, fontsize=8, fontweight="bold", va="center")
    if n == 0:
        ax.legend(loc="upper right", fontsize="small")

fig.supxlabel("Time")

fig.savefig("out.png")
